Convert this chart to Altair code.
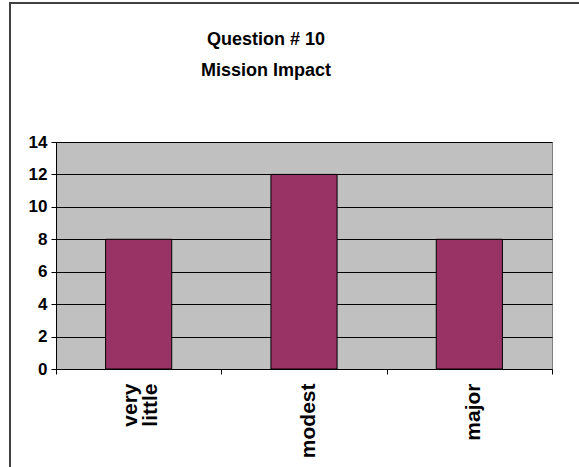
import altair as alt
import pandas as pd

categories = ["very little", "modest", "major"]
counts = [8, 12, 8]
y_ticks = [0, 2, 4, 6, 8, 10, 12, 14]
title_lines = ["Question # 10", "Mission Impact"]

df = pd.DataFrame({"category": categories, "count": counts})

FONT = "Liberation Sans, Arial, sans-serif"

bars = alt.Chart(df).mark_bar(
    color="#993366", stroke="#000000", strokeWidth=1,
    width=alt.RelativeBandSize(0.4)
).encode(
    x=alt.X("category:N", sort=categories,
            scale=alt.Scale(paddingInner=0, paddingOuter=0),
            axis=alt.Axis(title=None, labelAngle=-90, tickBand="extent",
                          labelExpr="split(datum.label, ' ')",
                          labelOffset={"condition": {"test": "datum.value == 'very little'", "value": -8},
                                       "value": 4},
                          labelFont=FONT, labelFontSize=21, labelFontWeight="bold",
                          labelColor="#000000", labelPadding=9, labelLineHeight=20,
                          tickSize=5, tickColor="#000000", domainColor="#000000",
                          domainWidth=1, grid=False)),
    y=alt.Y("count:Q",
            scale=alt.Scale(domain=[0, 14], nice=False),
            axis=alt.Axis(title=None, values=y_ticks,
                          labelFont=FONT, labelFontSize=17, labelFontWeight="bold",
                          labelColor="#000000", labelPadding=4,
                          tickSize=5, tickColor="#000000", domainColor="#000000",
                          domainWidth=1, grid=True, gridColor="#000000",
                          gridWidth=1, gridOpacity=1)),
)

frame = alt.Chart(alt.Data(values=[{"f": 1}])).mark_rect(
    fill=None, stroke="#404040", strokeWidth=2, clip=False
).encode(
    x=alt.value(-46), x2=alt.value(700),
    y=alt.value(-139), y2=alt.value(700),
)

chart = alt.layer(frame, bars).properties(
    width=496, height=227,
    autosize=alt.AutoSizeParams(type="none"),
    padding={"left": 56, "top": 142, "right": 27, "bottom": 98},
    background="#ffffff",
    title=alt.TitleParams(text=title_lines, font=FONT, fontSize=18,
                          fontWeight="bold", color="#000000", lineHeight=31,
                          anchor="middle", dx=-38, dy=78, offset=0),
).configure_view(
    fill="#C0C0C0", stroke="#808080", strokeWidth=1
)

chart.save("out.html", embed_options={"renderer": "svg", "actions": False})
